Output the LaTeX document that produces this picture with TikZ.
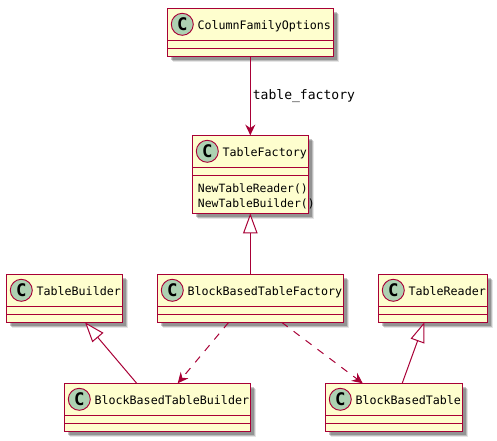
\documentclass[tikz,border=0pt]{standalone}
\usepackage{fontspec}
\setmainfont{DejaVu Sans Mono}
\usetikzlibrary{arrows.meta,calc,shadows}
\definecolor{accent}{HTML}{A80036}
\definecolor{light}{HTML}{FEFECE}
\definecolor{spot}{HTML}{ADD1B2}
\tikzset{classbox/.style={draw=accent,fill=light,line width=1.1pt,outer sep=0pt,inner sep=0pt,
    drop shadow={shadow xshift=4.6pt,shadow yshift=-4.6pt,fill=black,opacity=.1},
    drop shadow={shadow xshift=3.8pt,shadow yshift=-3.8pt,fill=black,opacity=.18},
    drop shadow={shadow xshift=3pt,shadow yshift=-3pt,fill=black,opacity=.22}},
  spotc/.style={circle,draw=accent,fill=spot,line width=.7pt,minimum size=16.5pt,inner sep=0pt,font=\fontsize{13}{14}\selectfont\bfseries},
  title/.style={anchor=base west,inner sep=0pt,font=\fontsize{8.75}{10}\selectfont},
  member/.style={anchor=base west,inner sep=0pt,font=\fontsize{8.55}{10}\selectfont},
  rule/.style={accent,line width=1.1pt},
  arr/.style={-{Stealth[length=8pt,width=7.5pt,inset=2.6pt]},accent,line width=.75pt},
  dep/.style={arr,dash pattern=on 5.6pt off 5.6pt},
  inherit/.style={-{Triangle[length=15pt,width=10.8pt,fill=white]},accent,line width=.75pt}}

\begin{document}
\begin{tikzpicture}[x=.75pt,y=-.75pt]
\useasboundingbox (0,0) rectangle (497,441);
% classes: name/left/top/width/height/text
\foreach \nm/\lx/\ty/\bw/\bh/\txt in {cfo/167.3/8.3/166/48/ColumnFamilyOptions,
    factory/192.3/135.3/116/78/TableFactory,
    builder/6.3/274.3/116/48/TableBuilder,
    bbfactory/157.3/274.3/186/48/BlockBasedTableFactory,
    reader/378.3/274.3/109/48/TableReader,
    bbbuilder/64.3/383.3/186/48/BlockBasedTableBuilder,
    bbtable/325.3/383.3/137/48/BlockBasedTable}{
  \node[classbox,anchor=north west,minimum width=\bw*.75pt,minimum height=\bh*.75pt] (\nm) at (\lx,\ty) {};
  \draw[rule] ($(\nm.north west)+(0,32)$) -- ($(\nm.north east)+(0,32)$);
  \draw[rule] ($(\nm.north west)+(0,40)$) -- ($(\nm.north east)+(0,40)$);
  \node[spotc] (\nm c) at ($(\nm.north west)+(15,16)$) {C};
  \node[title] (\nm t) at ($(\nm.north west)+(30,21.3)$) {\txt};
}
\node[member] (m1) at ($(factory.north west)+(5.4,57)$) {NewTableReader()};
\node[member] (m2) at ($(factory.north west)+(5.4,72)$) {NewTableBuilder()};

\draw[arr] (cfo.south) -- node[right,inner sep=1.5pt,text=black,font=\fontsize{9.8}{11}\selectfont]{table\_factory} (factory.north);
\draw[inherit] (bbfactory.north) -- (factory.south);
\draw[inherit] ($(bbbuilder.north)+(-20.6,0)$) -- ($(builder.south)+(20.7,0)$);
\draw[inherit] ($(bbtable.north)+(8.4,0)$) -- ($(reader.south)+(-8.5,0)$);
\draw[dep] ($(bbfactory.south)+(-21.6,0)$) -- ($(bbbuilder.north)+(20.4,0)$);
\draw[dep] ($(bbfactory.south)+(31.4,0)$) -- ($(bbtable.north)+(-31.1,0)$);
\end{tikzpicture}
\end{document}
